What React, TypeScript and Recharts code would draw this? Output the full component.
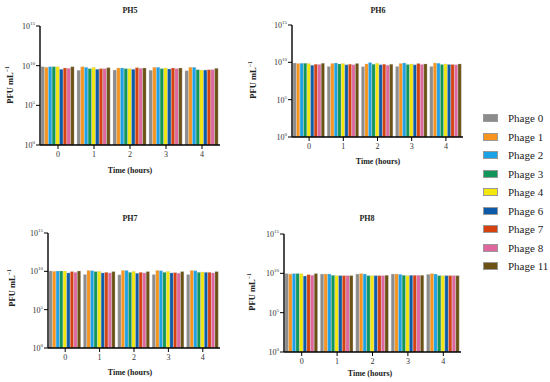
import React from 'react';
import { BarChart, Bar, XAxis, YAxis } from 'recharts';

// time points (hours)
const times = ['0', '1', '2', '3', '4'];

const phages = ['Phage 0', 'Phage 1', 'Phage 2', 'Phage 3', 'Phage 4', 'Phage 6', 'Phage 7', 'Phage 8', 'Phage 11'];
const colors = ['#8c8c8c', '#f7941d', '#1ba1e6', '#0f9658', '#f2e60a', '#0d5ba8', '#d5420f', '#e066a0', '#6b5214'];

// PFU/mL per time point, one value per phage (same order as phages)
const ph5 = [
  [7.4e9, 6.2e9, 7.4e9, 7.4e9, 7.4e9, 3.5e9, 5.1e9, 4.6e9, 7.4e9],
  [2.6e9, 7.4e9, 6.2e9, 4.2e9, 6.2e9, 3.5e9, 4.2e9, 4.2e9, 5.6e9],
  [2.8e9, 5.1e9, 5.1e9, 4.2e9, 4.2e9, 3.5e9, 5.6e9, 4.6e9, 5.1e9],
  [2.6e9, 6.2e9, 6.2e9, 4.2e9, 5.1e9, 3.8e9, 5.1e9, 4.2e9, 5.1e9],
  [2.3e9, 6.2e9, 6.2e9, 3.1e9, 2.8e9, 2.8e9, 3.1e9, 3.1e9, 4.6e9],
];
const ph6 = [
  [8.1e9, 6.8e9, 7.4e9, 7.4e9, 6.8e9, 4.2e9, 5.6e9, 5.1e9, 7.4e9],
  [2.8e9, 6.8e9, 8.1e9, 6.2e9, 6.8e9, 4.6e9, 5.6e9, 4.6e9, 6.8e9],
  [2.6e9, 6.2e9, 9.2e9, 5.6e9, 7.4e9, 4.6e9, 5.6e9, 4.2e9, 5.6e9],
  [2.8e9, 6.8e9, 8.1e9, 5.1e9, 6.2e9, 4.6e9, 6.8e9, 5.1e9, 6.2e9],
  [2.8e9, 8.1e9, 7.4e9, 5.1e9, 6.2e9, 5.1e9, 5.1e9, 4.6e9, 6.2e9],
];
const ph7 = [
  [1.1e10, 1.0e10, 1.1e10, 1.1e10, 1.1e10, 6.2e9, 9.2e9, 7.4e9, 1.1e10],
  [3.8e9, 1.3e10, 1.2e10, 9.2e9, 1.0e10, 6.2e9, 7.4e9, 6.2e9, 9.2e9],
  [3.5e9, 1.3e10, 1.3e10, 7.4e9, 1.0e10, 5.6e9, 7.4e9, 6.2e9, 9.2e9],
  [3.8e9, 1.3e10, 1.2e10, 7.4e9, 1.0e10, 6.2e9, 6.8e9, 5.6e9, 9.2e9],
  [3.8e9, 1.3e10, 1.2e10, 7.4e9, 8.1e9, 7.4e9, 7.4e9, 6.2e9, 9.2e9],
];
const ph8 = [
  [9.2e9, 8.1e9, 9.2e9, 9.2e9, 9.2e9, 4.6e9, 6.8e9, 5.6e9, 9.2e9],
  [8.1e9, 8.1e9, 8.1e9, 5.6e9, 5.1e9, 5.1e9, 5.1e9, 5.1e9, 5.1e9],
  [8.1e9, 9.2e9, 8.1e9, 5.1e9, 5.1e9, 5.1e9, 5.1e9, 5.1e9, 5.6e9],
  [8.1e9, 8.1e9, 7.4e9, 5.6e9, 5.1e9, 5.6e9, 5.6e9, 5.6e9, 5.6e9],
  [7.4e9, 9.2e9, 8.1e9, 5.1e9, 5.1e9, 5.1e9, 5.1e9, 5.1e9, 5.1e9],
];

const yTicks = [1, 1e5, 1e10, 1e15];

const W = 550;
const H = 382;
const FONT = 'Liberation Serif, DejaVu Serif, serif';

const toRows = (vals: number[][]) =>
  times.map((t, i) => {
    const row: any = { time: t };
    phages.forEach((_, j) => (row['p' + j] = vals[i][j]));
    return row;
  });

const YTick = (props: any) => {
  const { x, y, payload } = props;
  const e = Math.round(Math.log10(payload.value));
  return (
    <text x={x} y={y + 3} textAnchor="end" fontFamily={FONT} fontSize={8} fill="#333">
      10<tspan dy={-4} fontSize={5}>{e}</tspan>
    </text>
  );
};

// plot area of each panel, in page pixels
const panels = [
  { title: 'PH5', vals: ph5, x0: 40, x1: 220, y0: 26, y1: 145, tx: 130, ty: 13, lx: 10, ly: 85, xx: 130, xy: 173 },
  { title: 'PH6', vals: ph6, x0: 292, x1: 463, y0: 25, y1: 137, tx: 378, ty: 13, lx: 253, ly: 80, xx: 378, xy: 164 },
  { title: 'PH7', vals: ph7, x0: 48, x1: 220, y0: 233, y1: 348, tx: 130, ty: 221, lx: 12, ly: 288, xx: 130, xy: 375 },
  { title: 'PH8', vals: ph8, x0: 284, x1: 461, y0: 234, y1: 352, tx: 367, ty: 221, lx: 252, ly: 292, xx: 370, xy: 376 },
];

const GAP = 0.3;

const Panel = ({ p }: { p: (typeof panels)[number] }) => {
  const band = (p.x1 - p.x0) / times.length;
  const barSize = (band * 0.92 - GAP * (phages.length - 1)) / phages.length;
  return (
    <div style={{ position: 'absolute', left: 0, top: 0 }}>
      <BarChart
        width={W}
        height={H}
        data={toRows(p.vals)}
        margin={{ top: p.y0, right: W - p.x1, bottom: H - p.y1 - 30, left: 0 }}
        barGap={GAP}
        barSize={barSize}
      >
        <XAxis
          dataKey="time"
          height={30}
          tickSize={4}
          tick={{ fontSize: 8, fontFamily: FONT, fill: '#333' }}
          axisLine={{ stroke: '#000', strokeWidth: 1.4 }}
          tickLine={{ stroke: '#000', strokeWidth: 1 }}
        />
        <YAxis
          width={p.x0}
          scale="log"
          type="number"
          domain={[1, 1e15]}
          ticks={yTicks}
          allowDataOverflow
          tickSize={4}
          tickMargin={1}
          tick={<YTick />}
          axisLine={{ stroke: '#000', strokeWidth: 1.4 }}
          tickLine={{ stroke: '#000', strokeWidth: 1 }}
        />
        {phages.map((name, j) => (
          <Bar key={name} dataKey={'p' + j} name={name} fill={colors[j]} stroke="#c8c8c8" strokeWidth={0.3} isAnimationActive={false} />
        ))}
      </BarChart>
    </div>
  );
};

export default function App() {
  return (
    <div style={{ position: 'absolute', left: 0, top: 0, width: W, height: H, background: '#fff', overflow: 'hidden' }}>
      {panels.map((p) => (
        <Panel key={p.title} p={p} />
      ))}
      <svg width={W} height={H} style={{ position: 'absolute', left: 0, top: 0, pointerEvents: 'none' }}>
        {panels.map((p) => (
          <g key={p.title} fontFamily={FONT} fontWeight="bold" fill="#222">
            <text x={p.tx} y={p.ty} textAnchor="middle" fontSize={8}>{p.title}</text>
            <text x={p.xx} y={p.xy} textAnchor="middle" fontSize={8}>Time (hours)</text>
            <text transform={`translate(${p.lx},${p.ly}) rotate(-90)`} textAnchor="middle" dy={3} fontSize={8.5}>
              PFU mL<tspan dy={-4} fontSize={5.5}>−1</tspan>
            </text>
          </g>
        ))}
      </svg>
      <div style={{ position: 'absolute', left: 483, top: 109, fontFamily: FONT, fontSize: 11, color: '#222' }}>
        {phages.map((name, j) => (
          <div key={name} style={{ display: 'flex', alignItems: 'center', height: 18.5 }}>
            <span style={{ display: 'inline-block', width: 13, height: 6, background: colors[j], border: '0.5px solid #999', marginRight: 10 }} />
            {name}
          </div>
        ))}
      </div>
    </div>
  );
}
